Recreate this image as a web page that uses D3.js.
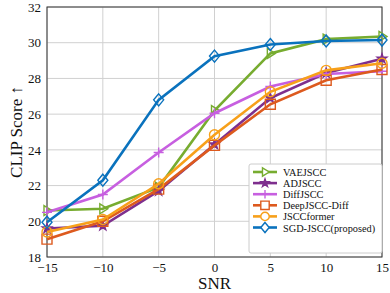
<!DOCTYPE html>
<html>
<head>
<meta charset="utf-8">
<script src="https://cdn.jsdelivr.net/npm/d3@7"></script>
<style>
  body { margin: 0; background: #fff; }
  svg text { font-family: "Liberation Serif", "Times New Roman", serif; }
</style>
</head>
<body>
<div id="chart-area"></div>
<script>
// data
var snr = [-15, -10, -5, 0, 5, 10, 15]
var vaejscc = [20.6, 20.7, 21.9, 26.2, 29.4, 30.2, 30.35]
var adjscc = [19.6, 19.75, 21.7, 24.3, 26.9, 28.3, 29.1]
var diffjscc = [20.5, 21.5, 23.85, 26.05, 27.55, 28.25, 28.4]
var deepjsccDiff = [19.0, 20.0, 21.8, 24.25, 26.55, 27.9, 28.5]
var jsccformer = [19.4, 20.1, 22.1, 24.85, 27.25, 28.45, 28.85]
var sgdjscc = [19.95, 22.3, 26.8, 29.25, 29.9, 30.1, 30.15]
var seriesNames = ["VAEJSCC", "ADJSCC", "DiffJSCC", "DeepJSCC-Diff", "JSCCformer", "SGD-JSCC(proposed)"]
var xTicks = [-15, -10, -5, 0, 5, 10, 15]
var yTicks = [18, 20, 22, 24, 26, 28, 30, 32]

var series = [
  { name: seriesNames[0], values: vaejscc, color: "#77ac30", marker: "tri" },
  { name: seriesNames[1], values: adjscc, color: "#7e2f8e", marker: "star" },
  { name: seriesNames[2], values: diffjscc, color: "#c75fe0", marker: "plus" },
  { name: seriesNames[3], values: deepjsccDiff, color: "#dd5a1e", marker: "square" },
  { name: seriesNames[4], values: jsccformer, color: "#f7a01a", marker: "circle" },
  { name: seriesNames[5], values: sgdjscc, color: "#0a72bd", marker: "diamond" }
]

var W = 390, H = 293
var margin = { left: 47, right: 8, top: 7, bottom: 36 }

var svg = d3.select("#chart-area").append("svg")
  .attr("width", W)
  .attr("height", H)

var x = d3.scaleLinear().domain([-15, 15]).range([margin.left, W - margin.right])
var y = d3.scaleLinear().domain([18, 32]).range([H - margin.bottom, margin.top])

// grid
svg.append("g").selectAll("line").data(xTicks).enter().append("line")
  .attr("x1", function (d) { return x(d) }).attr("x2", function (d) { return x(d) })
  .attr("y1", y(18)).attr("y2", y(32))
  .attr("stroke", "#d0d0d0").attr("stroke-width", 1)
svg.append("g").selectAll("line").data(yTicks).enter().append("line")
  .attr("y1", function (d) { return y(d) }).attr("y2", function (d) { return y(d) })
  .attr("x1", x(-15)).attr("x2", x(15))
  .attr("stroke", "#d0d0d0").attr("stroke-width", 1)

// axes
var xAxis = svg.append("g")
  .attr("transform", "translate(0," + y(18) + ")")
  .call(d3.axisBottom(x).tickValues(xTicks).tickSize(0).tickPadding(6)
    .tickFormat(function (d) { return d < 0 ? "\u2212" + Math.abs(d) : d }))
var yAxis = svg.append("g")
  .attr("transform", "translate(" + x(-15) + ",0)")
  .call(d3.axisLeft(y).tickValues(yTicks).tickSize(0).tickPadding(6))
;[xAxis, yAxis].forEach(function (g) {
  g.select(".domain").remove()
  g.selectAll("text").attr("font-size", 13).attr("fill", "#111")
    .style("font-family", "Liberation Serif")
})

// frame
svg.append("rect")
  .attr("x", x(-15)).attr("y", y(32))
  .attr("width", x(15) - x(-15)).attr("height", y(18) - y(32))
  .attr("fill", "none").attr("stroke", "#333").attr("stroke-width", 1)

function markerPath(type, s) {
  var r = s
  if (type == "tri") return "M" + (-r * 0.6) + "," + (-r) + "L" + r + ",0L" + (-r * 0.6) + "," + r + "Z"
  if (type == "square") return "M" + (-r) + "," + (-r) + "H" + r + "V" + r + "H" + (-r) + "Z"
  if (type == "diamond") return "M0," + (-r * 1.2) + "L" + r + ",0L0," + (r * 1.2) + "L" + (-r) + ",0Z"
  if (type == "plus") return "M" + (-r) + ",0H" + r + "M0," + (-r) + "V" + r
  if (type == "circle") return d3.symbol(d3.symbolCircle, Math.PI * r * r)()
  if (type == "star") return d3.symbol(d3.symbolStar, r * r * 1.1)()
}

var line = d3.line()
  .x(function (d, i) { return x(snr[i]) })
  .y(function (d) { return y(d) })

series.forEach(function (s) {
  svg.append("path")
    .attr("d", line(s.values))
    .attr("fill", "none")
    .attr("stroke", s.color)
    .attr("stroke-width", 2.6)
  svg.append("g").selectAll("path").data(s.values).enter().append("path")
    .attr("transform", function (d, i) { return "translate(" + x(snr[i]) + "," + y(d) + ")" })
    .attr("d", markerPath(s.marker, 5))
    .attr("fill", s.marker == "star" ? s.color : "none")
    .attr("stroke", s.color)
    .attr("stroke-width", 1.4)
})

// axis titles
svg.append("text")
  .attr("x", x(0)).attr("y", 289)
  .attr("text-anchor", "middle")
  .attr("font-size", 17).attr("fill", "#111")
  .text("SNR")
svg.append("text")
  .attr("transform", "translate(22," + y(25) + ") rotate(-90)")
  .attr("text-anchor", "middle")
  .attr("font-size", 17).attr("fill", "#111")
  .text("CLIP Score \u2191")

// legend
var lg = svg.append("g").attr("transform", "translate(249,164)")
lg.append("rect")
  .attr("width", 133).attr("height", 89)
  .attr("fill", "#fff").attr("stroke", "#ccc").attr("rx", 2)
series.forEach(function (s, i) {
  var ly = 8 + i * 11.1
  lg.append("line")
    .attr("x1", 4).attr("x2", 28).attr("y1", ly).attr("y2", ly)
    .attr("stroke", s.color).attr("stroke-width", 2.6)
  lg.append("path")
    .attr("transform", "translate(16," + ly + ")")
    .attr("d", markerPath(s.marker, 4.2))
    .attr("fill", s.marker == "star" ? s.color : (s.marker == "plus" ? "none" : "#fff"))
    .attr("stroke", s.color).attr("stroke-width", 1.4)
  lg.append("text")
    .attr("x", 34).attr("y", ly + 4)
    .attr("font-size", 10.3).attr("fill", "#111")
    .text(s.name)
})
</script>
</body>
</html>
